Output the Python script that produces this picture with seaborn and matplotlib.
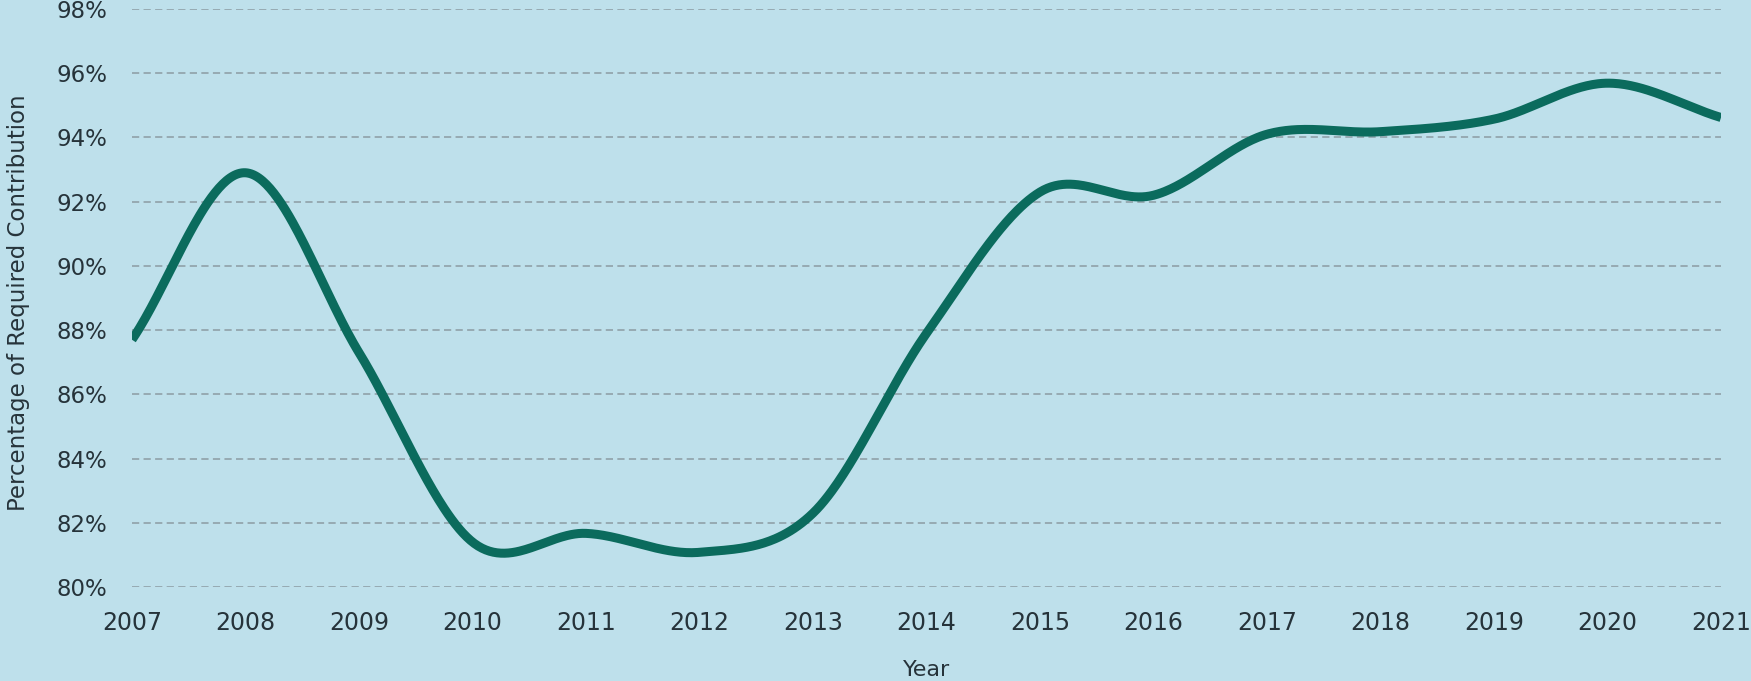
import numpy as np
import pandas as pd
import seaborn as sns
import matplotlib.pyplot as plt
from matplotlib.ticker import FuncFormatter

# Share of the required contribution actually paid, by year (%)
years = [2007, 2008, 2009, 2010, 2011, 2012, 2013, 2014,
         2015, 2016, 2017, 2018, 2019, 2020, 2021]
pct_paid = [87.7, 92.9, 87.3, 81.4, 81.67, 81.08, 82.3, 87.9,
            92.3, 92.2, 94.1, 94.18, 94.57, 95.69, 94.62]
y_ticks = [80, 82, 84, 86, 88, 90, 92, 94, 96, 98]

BG = "#bee0eb"
LINE = "#0b6b5d"
TEXT = "#26333a"
GRID = "#93a6ad"


def catmull_rom(x, y, per_seg=60):
    """Smooth cubic Hermite curve through the points (Catmull-Rom tangents)."""
    x = np.asarray(x, float)
    y = np.asarray(y, float)
    n = len(x)
    m = np.empty(n)
    m[1:-1] = (y[2:] - y[:-2]) / (x[2:] - x[:-2])
    m[0] = (y[1] - y[0]) / (x[1] - x[0])
    m[-1] = (y[-1] - y[-2]) / (x[-1] - x[-2])
    xs, ys = [], []
    for i in range(n - 1):
        h = x[i + 1] - x[i]
        t = np.linspace(0, 1, per_seg, endpoint=(i == n - 2))
        h00 = 2 * t**3 - 3 * t**2 + 1
        h10 = t**3 - 2 * t**2 + t
        h01 = -2 * t**3 + 3 * t**2
        h11 = t**3 - t**2
        xs.append(x[i] + t * h)
        ys.append(h00 * y[i] + h10 * h * m[i] + h01 * y[i + 1] + h11 * h * m[i + 1])
    return np.concatenate(xs), np.concatenate(ys)


sx, sy = catmull_rom(years, pct_paid)
curve = pd.DataFrame({"Year": sx, "pct": sy})

sns.set_theme(style="white")
plt.rcParams["font.family"] = ["DejaVu Sans"]

W, H = 1751, 681
fig = plt.figure(figsize=(W / 100, H / 100), dpi=100, facecolor=BG)
ax = fig.add_axes([132 / W, (H - 587) / H, (1721 - 132) / W, (587 - 9) / H])
ax.set_facecolor(BG)

for v in y_ticks:
    ax.axhline(v, color=GRID, lw=1.3, ls=(0, (4, 2.4)), zorder=1)

sns.lineplot(data=curve, x="Year", y="pct", ax=ax, color=LINE,
             linewidth=6.5, zorder=3, solid_capstyle="butt")

ax.set_xlim(years[0], years[-1])
ax.set_ylim(y_ticks[0], y_ticks[-1])
ax.set_xticks(years)
ax.set_xticklabels([str(y) for y in years])
ax.set_yticks(y_ticks)
ax.yaxis.set_major_formatter(FuncFormatter(lambda v, _: f"{v:.0f}%"))

for s in ax.spines.values():
    s.set_visible(False)
ax.grid(False)
ax.tick_params(axis="x", length=0, labelsize=17, colors=TEXT, pad=17)
ax.tick_params(axis="y", length=0, labelsize=16.5, colors=TEXT, pad=18)

ax.set_xlabel("Year", fontsize=16, color=TEXT, labelpad=18)
ax.set_ylabel("")
fig.text(19 / W, 1 - 303 / H, "Percentage of Required Contribution",
         rotation=90, ha="center", va="center", fontsize=16.5, color=TEXT)

fig.savefig("out.png", dpi=100, facecolor=BG)
